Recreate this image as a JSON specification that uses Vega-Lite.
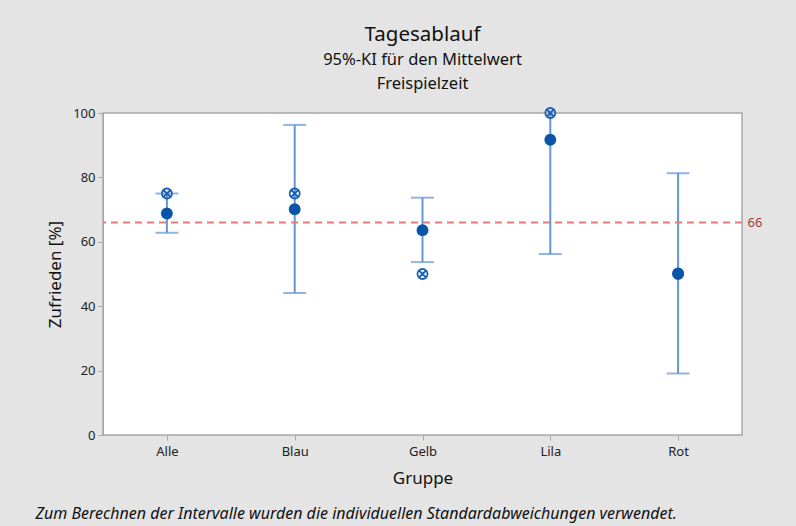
{
  "$schema": "https://vega.github.io/schema/vega-lite/v6.json",
  "autosize": "none",
  "width": 639,
  "height": 322,
  "padding": {"left": 103, "top": 113, "right": 54, "bottom": 91},
  "background": "#e4e4e4",
  "title": {
    "text": "Tagesablauf",
    "subtitle": ["95%-KI für den Mittelwert", "Freispielzeit"],
    "anchor": "middle",
    "frame": "group",
    "fontSize": 20.5,
    "fontWeight": "normal",
    "color": "#111111",
    "subtitleFontSize": 16.5,
    "subtitleColor": "#111111",
    "subtitleLineHeight": 24,
    "subtitlePadding": 6,
    "offset": 12,
    "font": "Noto Sans",
    "subtitleFont": "Noto Sans"
  },
  "config": {
    "font": "Noto Sans",
    "view": {"stroke": "#a8a8a8", "strokeWidth": 1.5, "fill": "white"},
    "axis": {
      "domainColor": "#a8a8a8",
      "tickColor": "#a8a8a8",
      "labelColor": "#222222",
      "labelFontSize": 13,
      "titleFontSize": 17,
      "titleFontWeight": "normal",
      "titleColor": "#111111",
      "grid": false
    }
  },
  "data": {
    "values": [
      {"Gruppe": "Alle", "mean": 68.8, "lower": 62.8, "upper": 75.0, "median": 75},
      {"Gruppe": "Blau", "mean": 70.1, "lower": 44.1, "upper": 96.3, "median": 75},
      {"Gruppe": "Gelb", "mean": 63.6, "lower": 53.7, "upper": 73.7, "median": 50},
      {"Gruppe": "Lila", "mean": 91.7, "lower": 56.2, "upper": 127, "median": 100},
      {"Gruppe": "Rot", "mean": 50.2, "lower": 19.1, "upper": 81.3, "median": 50}
    ]
  },
  "layer": [
    {
      "mark": {"type": "rule", "color": "#6496d2", "strokeWidth": 2, "clip": true},
      "encoding": {
        "x": {
          "field": "Gruppe",
          "type": "nominal",
          "scale": {"type": "point", "padding": 0.5},
          "sort": null,
          "axis": {
            "title": "Gruppe",
            "labelAngle": 0,
            "labelPadding": 5,
            "tickSize": 5,
            "domain": false,
            "titleY": 48,
            "titleBaseline": "alphabetic"
          }
        },
        "y": {
          "field": "lower",
          "type": "quantitative",
          "scale": {"domain": [0, 100], "nice": false},
          "axis": {
            "title": "Zufrieden [%]",
            "values": [0, 20, 40, 60, 80, 100],
            "tickSize": 5,
            "labelPadding": 3,
            "titlePadding": 8
          }
        },
        "y2": {"field": "upper"}
      }
    },
    {
      "mark": {"type": "tick", "color": "#6496d2", "thickness": 2, "size": 23, "orient": "horizontal", "clip": true},
      "encoding": {
        "x": {"field": "Gruppe", "type": "nominal", "sort": null, "axis": null},
        "y": {"field": "lower", "type": "quantitative", "axis": null}
      }
    },
    {
      "mark": {"type": "tick", "color": "#6496d2", "thickness": 2, "size": 23, "orient": "horizontal", "clip": true},
      "encoding": {
        "x": {"field": "Gruppe", "type": "nominal", "sort": null, "axis": null},
        "y": {"field": "upper", "type": "quantitative", "axis": null}
      }
    },
    {
      "mark": {
        "type": "point",
        "shape": "M -1 0 A 1 1 0 1 0 1 0 A 1 1 0 1 0 -1 0 M -0.7 -0.7 L 0.7 0.7 M -0.7 0.7 L 0.7 -0.7",
        "filled": false,
        "stroke": "#1a5fb4",
        "strokeWidth": 1.8,
        "size": 100,
        "opacity": 1
      },
      "encoding": {
        "x": {
          "field": "Gruppe",
          "type": "nominal",
          "sort": null,
          "axis": {
            "orient": "bottom",
            "title": "Zum Berechnen der Intervalle wurden die individuellen Standardabweichungen verwendet.",
            "labels": false,
            "ticks": false,
            "domain": false,
            "titleFontStyle": "italic",
            "titleFontSize": 16,
            "titleAlign": "left",
            "titleAnchor": "start",
            "titleX": -68,
            "titleY": 83,
            "titleBaseline": "alphabetic"
          }
        },
        "y": {"field": "median", "type": "quantitative", "axis": null}
      }
    },
    {
      "mark": {"type": "point", "shape": "circle", "filled": true, "color": "#0a55a8", "size": 140, "opacity": 1},
      "encoding": {
        "x": {"field": "Gruppe", "type": "nominal", "sort": null, "axis": null},
        "y": {"field": "mean", "type": "quantitative", "axis": null}
      }
    },
    {
      "data": {"values": [{"ref": 66}]},
      "mark": {"type": "rule", "color": "#ea7a7a", "strokeWidth": 2, "strokeDash": [7, 5]},
      "encoding": {
        "y": {
          "field": "ref",
          "type": "quantitative",
          "axis": {
            "orient": "right",
            "title": null,
            "values": [66],
            "ticks": false,
            "domain": false,
            "labelColor": "#a33a3a",
            "labelFontSize": 13,
            "labelPadding": 5
          }
        }
      }
    }
  ],
  "resolve": {"axis": {"x": "independent", "y": "independent"}}
}
